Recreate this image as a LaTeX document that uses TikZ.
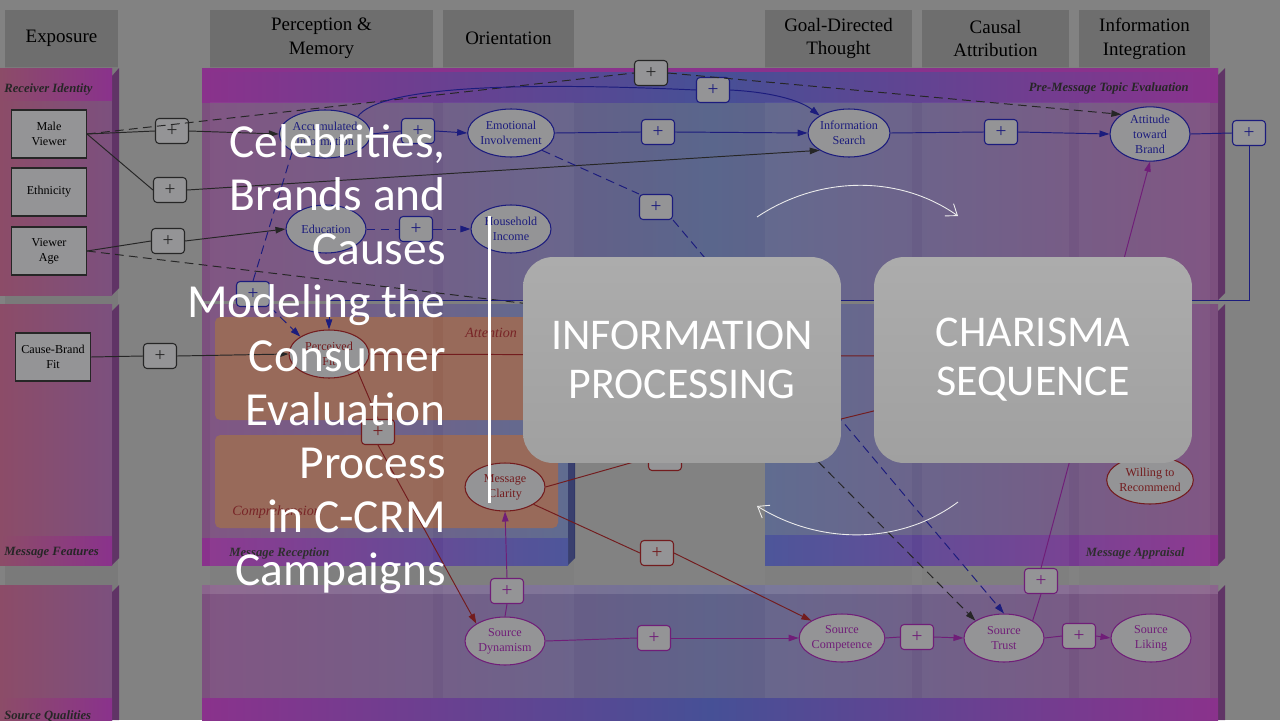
\documentclass[tikz,border=0pt]{standalone}
\usepackage{fontspec}
\setmainfont{Liberation Serif}
\newfontfamily\slidefont{Carlito}
\usetikzlibrary{arrows.meta,shapes.geometric}

\definecolor{bggray}{RGB}{130,130,130}
\definecolor{colgray}{RGB}{122,122,122}
\definecolor{hdgray}{RGB}{110,110,110}
\definecolor{magred}{RGB}{140,76,104}
\definecolor{magbody}{RGB}{124,80,126}
\definecolor{magbar}{RGB}{138,50,140}
\definecolor{magdark}{RGB}{96,52,102}
\definecolor{bluebody}{RGB}{90,102,140}
\definecolor{bluebar}{RGB}{70,80,150}
\definecolor{orangebox}{RGB}{148,100,84}
\definecolor{nodefill}{RGB}{148,148,150}
\definecolor{inkblue}{RGB}{28,28,125}
\definecolor{inkred}{RGB}{115,28,30}
\definecolor{inkpurple}{RGB}{112,30,120}
\definecolor{boxtop}{RGB}{172,172,172}
\definecolor{boxbot}{RGB}{160,160,160}

\newcommand{\dgfont}{\fontsize{6.9}{8.5}\selectfont}

\begin{document}
\begin{tikzpicture}[
  x=0.02cm, y=-0.02cm,
  colhead/.style={fill=hdgray, minimum height=1.14cm, inner sep=0, align=center, font=\fontsize{10.8}{13.6}\selectfont},
  barlabel/.style={font=\fontsize{7.2}{8}\selectfont\bfseries\itshape, text=black!85, inner sep=0},
  sublabel/.style={font=\fontsize{8}{9}\selectfont\itshape, text=inkred, inner sep=0},
  factor/.style={draw=black!85, fill=nodefill, minimum width=1.5cm, minimum height=0.96cm, inner sep=0, align=center, font=\dgfont, line width=0.6pt},
  construct/.style={ellipse, draw=#1, text=#1, fill=nodefill, minimum width=1.6cm, minimum height=0.96cm, inner sep=0, align=center, font=\dgfont, line width=0.6pt},
  pbox/.style={draw=#1, text=#1, fill=nodefill, rounded corners=2pt, minimum width=0.66cm, minimum height=0.5cm, inner sep=0, font=\fontsize{11}{11}\selectfont, line width=0.6pt},
  link/.style={draw=#1, line width=0.55pt},
  dlink/.style={link=#1, dash pattern=on 5pt off 3pt},
  arr/.style={-{Triangle[length=2mm,width=1.3mm]}},
  titleline/.style={anchor=base east, inner sep=0, text=white, font=\slidefont\fontsize{27}{30}\selectfont},
  stagebox/.style={rounded corners=0.6cm, top color=boxtop, bottom color=boxbot, minimum width=6.36cm, minimum height=4.12cm, inner sep=0, text=white, align=center, font=\slidefont\fontsize{25}{27.9}\selectfont},
  cyclearc/.style={draw=white!85!gray, line width=0.5pt, -{Straight Barb[length=2mm,width=3mm]}},
]

\fill[bggray] (0,0) rectangle (1280,720);
\useasboundingbox (0,0) rectangle (1280,720);

% columns of the processing stages
\foreach \xa/\xb in {5/118,210/433,443/574,765/912,922/1069,1079/1210}
  \fill[colgray] (\xa,67) rectangle (\xb,720);
\node[colhead, minimum width=2.26cm] (hExposure) at (61.5,38.5) {Exposure};
\node[colhead, minimum width=4.46cm] (hPerception) at (321.5,38.5) {Perception \&\\Memory};
\node[colhead, minimum width=2.62cm] (hOrientation) at (508.5,38.5) {Orientation};
\node[colhead, minimum width=2.94cm] (hGoal) at (838.5,38.5) {Goal-Directed\\Thought};
\node[colhead, minimum width=2.94cm] (hCausal) at (995.5,38.5) {Causal\\Attribution};
\node[colhead, minimum width=2.62cm] (hIntegration) at (1144.5,38.5) {Information\\Integration};

% left band panels
\shade[left color=magred, right color=magbody] (0,68) rectangle (112,295);
\fill[magdark] (112,76) -- (119,68) -- (119,288) -- (112,295) -- cycle;
\shade[left color=magred, right color=magbar] (0,68) rectangle (112,100);
\node[barlabel, anchor=west] (lblReceiver) at (4,89) {Receiver Identity};

\shade[left color=magred, right color=magbody] (0,304) rectangle (112,565);
\fill[magdark] (112,311) -- (119,304) -- (119,558) -- (112,565) -- cycle;
\shade[left color=magred, right color=magbar] (0,536) rectangle (112,565);
\node[barlabel, anchor=west] (lblFeatures) at (4,553) {Message Features};

\shade[left color=magred, right color=magbody] (0,585) rectangle (112,720);
\fill[magdark] (112,592) -- (119,585) -- (119,720) -- (112,720) -- cycle;
\shade[left color=magred, right color=magbar] (0,698) rectangle (112,720);
\node[barlabel, anchor=west] (lblSource) at (4,716) {Source Qualities};

% pre-message topic evaluation
\shade[left color=magbody, right color=magbody, middle color=bluebody] (202,68) rectangle (1218,300);
\fill[magdark] (1218,75) -- (1225,68) -- (1225,293) -- (1218,300) -- cycle;
\shade[left color=magbar, right color=magbar, middle color=bluebar] (202,68) rectangle (1218,102);
\fill[magbar] (202,68) rectangle (1218,72);
\node[barlabel, anchor=east] (lblPre) at (1189,88) {Pre-Message Topic Evaluation};

% message reception
\shade[left color=magbody, right color=bluebody] (202,304) rectangle (568,565);
\fill[bluebar!70!black] (568,311) -- (575,304) -- (575,558) -- (568,565) -- cycle;
\fill[orangebox, rounded corners=3pt] (215,317) rectangle (560,420);
\fill[orangebox, rounded corners=3pt] (215,435) rectangle (558,528);
\shade[left color=magbar, right color=bluebar] (202,538) rectangle (568,565);
\node[sublabel, anchor=west] (lblAttention) at (465,333) {Attention};
\node[sublabel, anchor=west] (lblComprehension) at (232,512) {Comprehension};
\node[barlabel, anchor=west] (lblReception) at (229,553) {Message Reception};

% message appraisal
\shade[left color=bluebody, right color=magbody] (765,304) rectangle (1218,565);
\fill[magdark] (1218,311) -- (1225,304) -- (1225,558) -- (1218,565) -- cycle;
\shade[left color=bluebar, right color=magbar] (765,535) rectangle (1218,565);
\node[barlabel, anchor=east] (lblAppraisal) at (1185,553) {Message Appraisal};

% source qualities row
\shade[left color=magbody, right color=magbody, middle color=bluebody!85!magbody] (202,585) rectangle (1218,698);
\fill[white, opacity=0.12] (202,585) rectangle (1218,594);
\fill[magdark] (1218,592) -- (1225,585) -- (1225,720) -- (1218,720) -- cycle;
\shade[left color=magbar, right color=magbar, middle color=bluebar] (202,698) rectangle (1218,720);

\foreach \xa/\xb in {210/433,443/574,765/912,922/1069,1079/1210}
  \fill[white, opacity=0.04] (\xa,102) rectangle (\xb,698);

% constructs
\node[factor] (male) at (49,134) {Male\\Viewer};
\node[factor] (ethn) at (49,192) {Ethnicity};
\node[factor] (vage) at (49,251) {Viewer\\Age};
\node[factor] (cbfit) at (53,357) {Cause-Brand\\Fit};

\node[construct=inkblue] (acc) at (325,134) {Accumulated\\Information};
\node[construct=inkblue] (emo) at (511,133) {Emotional\\Involvement};
\node[construct=inkblue] (search) at (849,133) {Information\\Search};
\node[construct=inkblue, minimum height=1.04cm] (att) at (1150,134) {Attitude\\toward\\Brand};
\node[construct=inkblue] (edu) at (326,229) {Education};
\node[construct=inkblue] (income) at (511,229) {Household\\Income};
\node[construct=inkred] (fit) at (329,354) {Perceived\\Fit};
\node[construct=inkred] (clarity) at (505,487) {Message\\Clarity};
\node[construct=inkred] (will) at (1150,480) {Willing to\\Recommend};
\node[construct=inkpurple] (dyn) at (505,641) {Source\\Dynamism};
\node[construct=inkpurple] (comp) at (842,638) {Source\\Competence};
\node[construct=inkpurple] (trust) at (1004,638) {Source\\Trust};
\node[construct=inkpurple] (liking) at (1151,638) {Source\\Liking};

% positive effects
\node[pbox=black!85] (pAcc) at (172,131) {+};
\node[pbox=black!85] (pSearch) at (170,190) {+};
\node[pbox=black!85] (pEdu) at (168,241) {+};
\node[pbox=black!85] (pFit) at (160,356) {+};
\node[pbox=black!85] (pAtt) at (651,73) {+};
\node[pbox=inkblue] (pCurve) at (713,90) {+};
\node[pbox=inkblue] (pEmo) at (418,131) {+};
\node[pbox=inkblue] (pSrch) at (658,132) {+};
\node[pbox=inkblue] (pAttB) at (1001,132) {+};
\node[pbox=inkblue] (pTrustB) at (656,207) {+};
\node[pbox=inkblue] (pIncome) at (416,229) {+};
\node[pbox=inkblue] (pFitB) at (253,294) {+};
\node[pbox=inkblue] (pLoop) at (1249,133) {+};
\node[pbox=inkred] (pDyn) at (378,432) {+};
\node[pbox=inkred] (pWill) at (665,458) {+};
\node[pbox=inkred] (pComp) at (657,553) {+};
\node[pbox=inkpurple] (pClar) at (507,591) {+};
\node[pbox=inkpurple] (pCompP) at (654,638) {+};
\node[pbox=inkpurple] (pTrust) at (917,637) {+};
\node[pbox=inkpurple] (pLiking) at (1079,636) {+};
\node[pbox=inkpurple] (pAttP) at (1041,581) {+};

\coordinate (vaBend) at (680,322);
\coordinate (loopCorner) at (1249,300);
\coordinate (fitBend) at (1150,357);
\coordinate (clarBend) at (1000,380);

% receiver links
\draw[link=black!85] (male.east) -- (pAcc.west);
\draw[link=black!85,arr] (pAcc.east) -- (acc.west);
\draw[link=black!85] (male.east) -- (pSearch.west);
\draw[link=black!85,arr] (pSearch.east) -- (search.south west);
\draw[dlink=black!85] (male.east) -- (pAtt.west);
\draw[dlink=black!85,arr] (pAtt.east) -- (att.north west);
\draw[link=black!85] (vage.east) -- (pEdu.west);
\draw[link=black!85,arr] (pEdu.east) -- (edu.west);
\draw[dlink=black!85] (vage.east) -- (vaBend);
\draw[dlink=black!85,arr] (vaBend) -- (trust.north west);
\draw[link=black!85] (cbfit.east) -- (pFit.west);
\draw[link=black!85,arr] (pFit.east) -- (fit.west);

% topic evaluation links
\draw[link=inkblue] (acc.east) -- (pEmo.west);
\draw[link=inkblue,arr] (pEmo.east) -- (emo.west);
\draw[link=inkblue] (acc.north east) .. controls (380,86) and (520,82) .. (pCurve.west);
\draw[link=inkblue,arr] (pCurve.east) .. controls (770,92) and (800,100) .. (search.north west);
\draw[link=inkblue] (emo.east) -- (pSrch.west);
\draw[link=inkblue,arr] (pSrch.east) -- (search.west);
\draw[link=inkblue] (search.east) -- (pAttB.west);
\draw[link=inkblue,arr] (pAttB.east) -- (att.west);
\draw[dlink=inkblue] (emo.south east) -- (pTrustB.north west);
\draw[dlink=inkblue,arr] (pTrustB.south east) -- (trust.north);
\draw[dlink=inkblue] (edu.east) -- (pIncome.west);
\draw[dlink=inkblue,arr] (pIncome.east) -- (income.west);
\draw[dlink=inkblue] (acc.south west) -- (pFitB.north);
\draw[dlink=inkblue,arr] (pFitB.south east) -- (fit.north west);
\draw[link=inkblue] (att.east) -- (pLoop.west);
\draw[link=inkblue,arr] (pLoop.south) -- (loopCorner) -| (fit.north);

% reception links
\draw[link=inkred] (fit.south east) -- (pDyn.north);
\draw[link=inkred,arr] (pDyn.south) -- (dyn.north west);
\draw[link=inkred] (fit.east) -- (fitBend);
\draw[link=inkred,arr] (fitBend) -- (will.north);
\draw[link=inkred] (clarity.east) -- (pWill.west);
\draw[link=inkred,arr] (pWill.east) -- (clarBend) -- (will.north);
\draw[link=inkred] (clarity.south east) -- (pComp.west);
\draw[link=inkred,arr] (pComp.east) -- (comp.north west);

% source links
\draw[link=inkpurple] (dyn.north) -- (pClar.south);
\draw[link=inkpurple,arr] (pClar.north) -- (clarity.south);
\draw[link=inkpurple] (dyn.east) -- (pCompP.west);
\draw[link=inkpurple,arr] (pCompP.east) -- (comp.west);
\draw[link=inkpurple] (comp.east) -- (pTrust.west);
\draw[link=inkpurple,arr] (pTrust.east) -- (trust.west);
\draw[link=inkpurple] (trust.east) -- (pLiking.west);
\draw[link=inkpurple,arr] (pLiking.east) -- (liking.west);
\draw[link=inkpurple] (trust.north east) -- (pAttP.south);
\draw[link=inkpurple,arr] (pAttP.north) -- (att.south);

% slide overlay
\coordinate (arcTopA) at (757,217);
\coordinate (arcTopB) at (958,216);
\coordinate (arcBotA) at (958,502);
\coordinate (arcBotB) at (757,506);
\draw[cyclearc] (arcTopA) .. controls (820,175) and (900,175) .. (arcTopB);
\draw[cyclearc] (arcBotA) .. controls (900,545) and (820,545) .. (arcBotB);

\foreach \ln [count=\i] in {{Celebrities,},Brands and,Causes,Modeling the,Consumer,Evaluation,Process,in C-CRM,Campaigns}
  \node[titleline] (title\i) at (446,{157+53.6*(\i-1)}) {\ln};
\draw[white, line width=1.7pt] (489,216) -- (489,503);

\node[stagebox] (info) at (682,360) {INFORMATION\\PROCESSING};
\node[stagebox] (charisma) at (1033,360) {CHARISMA\\SEQUENCE};

\end{tikzpicture}
\end{document}
